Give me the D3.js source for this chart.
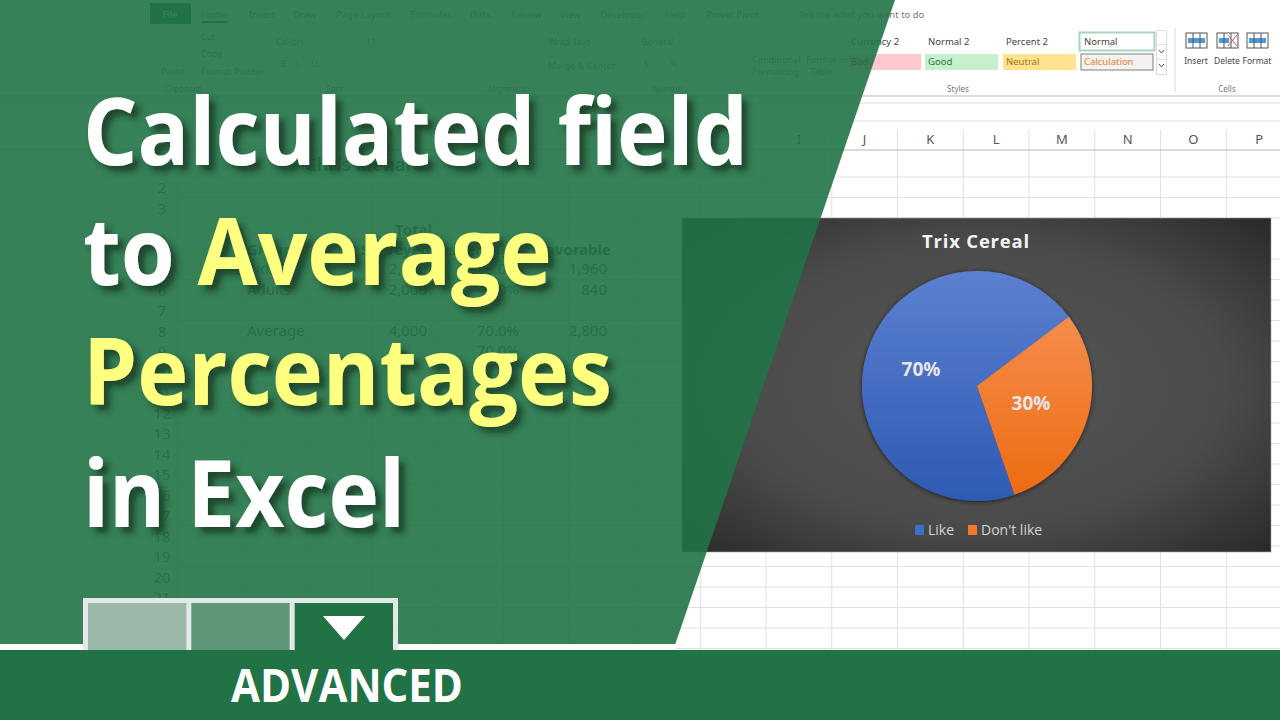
<!DOCTYPE html>
<html>
<head>
<meta charset="utf-8">
<script src="https://cdn.jsdelivr.net/npm/d3@7"></script>
<style>
  html, body { margin: 0; padding: 0; background: #fff; overflow: hidden; }
  svg { display: block; }
  text { font-family: "Open Sans", "Noto Sans", sans-serif; }
  .ui text, text.ui { font-family: "Noto Sans", "Liberation Sans", sans-serif; }
</style>
</head>
<body>
<script>
// chart data
const pieLabels = ['Like', "Don't like"];
const pieValues = [70, 30];
const pieTitle = 'Trix Cereal';

// spreadsheet behind the chart
const tableRows = ['Kids', 'Adults', '', 'Average', ''];
const tableSurveyed = ['2,000', '2,000', '', '4,000', ''];
const tablePercent = ['98.0%', '42.0%', '', '70.0%', '70.0%'];
const tableFavorable = ['1,960', '840', '', '2,800', ''];
const headerCells = ['Group', 'Surveyed', 'Percentage', 'Favorable'];
const leftCols = ['A', 'B', 'C', 'D', 'E', 'F', 'G', 'H'];
const rightCols = ['I', 'J', 'K', 'L', 'M', 'N', 'O', 'P'];
const rowNames = d3.range(2, 25);

// ribbon text
const ribbonTabs = ['Home', 'Insert', 'Draw', 'Page Layout', 'Formulas', 'Data', 'Review', 'View', 'Developer', 'Help', 'Power Pivot', 'Tell me what you want to do'];
const ribbonTools = ['Cut', 'Copy', 'Format Painter', 'Calibri', '11', 'Wrap Text', 'Merge & Center', 'General', 'Conditional', 'Formatting', 'Format as', 'Table', 'Paste', 'B', 'I', 'U', '$', '%'];
const ribbonGroups = ['Clipboard', 'Font', 'Alignment', 'Number', 'Styles', 'Cells'];
const styleTopRow = ['Currency 2', 'Normal 2', 'Percent 2', 'Normal'];
const styleBottomRow = ['Bad', 'Good', 'Neutral', 'Calculation'];
const cellTools = ['Insert', 'Delete', 'Format'];

// headline
const headline = [['Calculated field'], ['to ', 'Average'], ['Percentages'], ['in Excel']];
const levelLabel = 'ADVANCED';
const levelShades = ['#9ab9a8', '#5f9677', '#217346'];

// layout only
const tabX = [201, 249, 293, 336, 410, 470, 511, 560, 600, 665, 706, 799];
const toolPos = [[201,37],[201,54],[201,72],[276,42],[366,42],[548,42],[548,66],[641,42],[752,60],[752,72],[806,60],[810,72],[161,72],[280,64],[296,64],[311,64],[644,64],[670,64]];
const groupPos = [[183,89],[335,89],[507,89],[668,89],[958,89],[1227,89]];
const styleX = [851, 928, 1006, 1084];
const styleBoxX = [[850,921],[925,998],[1003,1076],[1081,1153]];
const styleBoxFill = ['#ffc7ce', '#c6efce', '#ffe38f', '#f2f2f2'];
const styleInk = ['#9c0006', '#1e7b34', '#a8700a', '#f07c1c'];
const cellX = [1196, 1227, 1257];
const rowSpan = rowNames.map(r => r === 4 ? 2 : 1);
const headlineY = [165, 285, 405, 527];
const headlineW = [665, 469, 529, 322];
const headlineInk = { 'to ': '#fff', 'Average': '#ffff80', 'Percentages': '#ffff80' };

const width = 1280, height = 720;
const svg = d3.select('body').append('svg').attr('width', width).attr('height', height);
const defs = svg.append('defs');

function linearGrad(id, top, bottom) {
  const g = defs.append('linearGradient').attr('id', id).attr('x1', 0).attr('y1', 0).attr('x2', 0).attr('y2', 1)
    .attr('gradientUnits', 'objectBoundingBox');
  g.append('stop').attr('offset', '0%').attr('stop-color', top);
  g.append('stop').attr('offset', '100%').attr('stop-color', bottom);
}
linearGrad('g-like', '#5c80d0', '#2e5ab4');
linearGrad('g-dislike', '#f68c4c', '#ec6c12');

const panelGrad = defs.append('radialGradient').attr('id', 'g-panel').attr('cx', '50%').attr('cy', '50%').attr('r', '70%');
panelGrad.append('stop').attr('offset', '0%').attr('stop-color', '#565656');
panelGrad.append('stop').attr('offset', '60%').attr('stop-color', '#4b4b4b');
panelGrad.append('stop').attr('offset', '100%').attr('stop-color', '#2a2a2a');

const headShadow = defs.append('filter').attr('id', 'f-head').attr('x', '-5%').attr('y', '-10%').attr('width', '115%').attr('height', '130%');
headShadow.append('feDropShadow').attr('dx', 6).attr('dy', 6).attr('stdDeviation', 3).attr('flood-color', '#123d26').attr('flood-opacity', 0.85);
const pieShadow = defs.append('filter').attr('id', 'f-pie').attr('x', '-10%').attr('y', '-10%').attr('width', '120%').attr('height', '120%');
pieShadow.append('feDropShadow').attr('dx', 0).attr('dy', 1).attr('stdDeviation', 2.5).attr('flood-color', '#000').attr('flood-opacity', 0.6);

// --- sheet grid ---
const sheet = svg.append('g').attr('class', 'ui');
const gridColor = '#e0e0e0';
const xRight = d3.scaleBand().domain(rightCols).range([766, 1292]);
const xLeft = d3.scaleBand().domain(leftCols).range([241, 766]);
const rowTop = d3.scaleLinear().domain([0, d3.sum(rowSpan)]).range([177, 177 + d3.sum(rowSpan) * 20.5]);
const rowEnds = Array.from(d3.cumsum(rowSpan));
const rowY = r => rowTop(rowEnds[rowNames.indexOf(r)] - rowSpan[rowNames.indexOf(r)]);
const rowMid = r => rowY(r) + rowSpan[rowNames.indexOf(r)] * 20.5 / 2;

sheet.selectAll('line.row').data(rowNames).join('line').attr('class', 'row')
  .attr('x1', 178).attr('x2', width)
  .attr('y1', d => rowY(d)).attr('y2', d => rowY(d))
  .attr('stroke', gridColor);
sheet.selectAll('line.col').data(leftCols.concat(rightCols)).join('line').attr('class', 'col')
  .attr('x1', d => leftCols.includes(d) ? xLeft(d) : xRight(d))
  .attr('x2', d => leftCols.includes(d) ? xLeft(d) : xRight(d))
  .attr('y1', 130).attr('y2', 650)
  .attr('stroke', gridColor);
sheet.append('line').attr('x1', 0).attr('x2', width).attr('y1', 150).attr('y2', 150).attr('stroke', '#b5b5b5');
sheet.append('line').attr('x1', 178).attr('x2', 178).attr('y1', 130).attr('y2', 650).attr('stroke', '#c8c8c8');
sheet.append('line').attr('x1', 0).attr('x2', width).attr('y1', 103).attr('y2', 103).attr('stroke', '#dcdcdc');
sheet.append('line').attr('x1', 0).attr('x2', width).attr('y1', 121).attr('y2', 121).attr('stroke', '#dcdcdc');

sheet.selectAll('text.colname').data(rightCols).join('text').attr('class', 'colname')
  .attr('x', d => xRight(d) + xRight.bandwidth() / 2).attr('y', 144)
  .attr('text-anchor', 'middle').attr('font-size', 13).attr('fill', '#555').text(d => d);
sheet.selectAll('text.rowname').data(rowNames.filter(r => r <= 21)).join('text').attr('class', 'rowname')
  .attr('x', 162).attr('y', d => rowMid(d) + 6)
  .attr('text-anchor', 'middle').attr('font-size', 15).attr('fill', '#555').text(d => d);

// ghost table, mostly hidden by the green wash
const ghost = sheet.append('g').attr('font-size', 15).attr('fill', '#4a4a4a');
ghost.append('text').attr('x', 305).attr('y', 171).attr('font-size', 18).attr('font-weight', 700).text('Chris Menard');
ghost.append('text').attr('x', 432).attr('y', 235).attr('text-anchor', 'end').attr('font-weight', 700).text('Total');
const headerX = [247, 430, 519, 611];
const valueX = [247, 427, 519, 607];
ghost.selectAll('text.head').data(headerCells).join('text').attr('class', 'head')
  .attr('x', (d, i) => headerX[i]).attr('y', 255)
  .attr('text-anchor', (d, i) => i ? 'end' : 'start').attr('font-weight', 700).text(d => d);
const tableStart = 5;
[tableRows, tableSurveyed, tablePercent, tableFavorable].forEach((col, c) => {
  ghost.selectAll(`text.c${c}`).data(col).join('text').attr('class', `c${c}`)
    .attr('x', valueX[c]).attr('y', (d, i) => rowMid(tableStart + i) + 5)
    .attr('text-anchor', c ? 'end' : 'start').text(d => d);
});

// --- ribbon ---
const ribbon = svg.append('g').attr('class', 'ui');
ribbon.append('rect').attr('x', 0).attr('y', 0).attr('width', width).attr('height', 96).attr('fill', '#fff');
ribbon.append('line').attr('x1', 0).attr('x2', width).attr('y1', 96).attr('y2', 96).attr('stroke', '#d0d0d0').attr('stroke-width', 1.5);
ribbon.append('rect').attr('x', 150).attr('y', 3).attr('width', 41).attr('height', 21).attr('fill', '#217346');
ribbon.append('text').attr('x', 170).attr('y', 18).attr('text-anchor', 'middle').attr('font-size', 9.5).attr('fill', '#fff').text('File');
ribbon.selectAll('text.tab').data(ribbonTabs).join('text').attr('class', 'tab')
  .attr('x', (d, i) => tabX[i]).attr('y', 18).attr('font-size', 9.5).attr('fill', '#777').text(d => d);
ribbon.append('rect').attr('x', 201).attr('y', 21).attr('width', 27).attr('height', 2).attr('fill', '#217346');
ribbon.selectAll('text.tool').data(ribbonTools).join('text').attr('class', 'tool')
  .attr('x', (d, i) => toolPos[i][0]).attr('y', (d, i) => toolPos[i][1] + 3).attr('font-size', 9).attr('fill', '#777').text(d => d);
ribbon.selectAll('text.group').data(ribbonGroups).join('text').attr('class', 'group')
  .attr('x', (d, i) => groupPos[i][0]).attr('y', (d, i) => groupPos[i][1] + 3)
  .attr('text-anchor', 'middle').attr('font-size', 8).attr('fill', '#777').text(d => d);

ribbon.selectAll('text.styleTop').data(styleTopRow).join('text').attr('class', 'styleTop')
  .attr('x', (d, i) => styleX[i]).attr('y', 45).attr('font-size', 9.5).attr('fill', '#444').text(d => d);
ribbon.append('rect').attr('x', 1079.5).attr('y', 32.5).attr('width', 75).attr('height', 18)
  .attr('fill', 'none').attr('stroke', '#a6d7ba').attr('stroke-width', 2);
ribbon.selectAll('rect.styleBox').data(styleBottomRow).join('rect').attr('class', 'styleBox')
  .attr('x', (d, i) => styleBoxX[i][0]).attr('y', 54)
  .attr('width', (d, i) => styleBoxX[i][1] - styleBoxX[i][0]).attr('height', 16)
  .attr('fill', (d, i) => styleBoxFill[i])
  .attr('stroke', (d, i) => i === 3 ? '#7f7f7f' : 'none');
ribbon.selectAll('text.styleBot').data(styleBottomRow).join('text').attr('class', 'styleBot')
  .attr('x', (d, i) => styleX[i]).attr('y', 65).attr('font-size', 9.5)
  .attr('fill', (d, i) => styleInk[i]).text(d => d);
ribbon.append('rect').attr('x', 1156.5).attr('y', 30.5).attr('width', 10).attr('height', 44).attr('fill', '#fff').attr('stroke', '#ddd');
ribbon.append('line').attr('x1', 1156.5).attr('x2', 1166.5).attr('y1', 44.5).attr('y2', 44.5).attr('stroke', '#ddd');
ribbon.append('line').attr('x1', 1156.5).attr('x2', 1166.5).attr('y1', 59.5).attr('y2', 59.5).attr('stroke', '#ddd');
ribbon.append('path').attr('d', 'M1159,50 L1161.5,53 L1164,50 M1159,64 L1161.5,67 L1164,64').attr('fill', 'none').attr('stroke', '#555');
ribbon.append('line').attr('x1', 1175).attr('x2', 1175).attr('y1', 28).attr('y2', 92).attr('stroke', '#d8d8d8');
ribbon.selectAll('text.cellTool').data(cellTools).join('text').attr('class', 'cellTool')
  .attr('x', (d, i) => cellX[i]).attr('y', 64).attr('text-anchor', 'middle').attr('font-size', 8.5).attr('fill', '#444').text(d => d);
ribbon.selectAll('g.cellIcon').data(cellTools).join('g').attr('class', 'cellIcon')
  .attr('transform', (d, i) => `translate(${cellX[i] - 10},33)`)
  .each(function(d, i) {
    const g = d3.select(this);
    g.append('rect').attr('width', 21).attr('height', 15).attr('fill', '#fff').attr('stroke', '#555');
    g.append('rect').attr('x', 2).attr('y', 5).attr('width', i === 1 ? 10 : 17).attr('height', 5).attr('fill', '#4d9ad8');
    d3.range(1, 3).forEach(k => g.append('line').attr('x1', k * 7).attr('x2', k * 7).attr('y1', 0).attr('y2', 15).attr('stroke', '#555'));
    if (i === 1) g.append('path').attr('d', 'M11,2 L20,13 M20,2 L11,13').attr('stroke', '#d9534f').attr('fill', 'none');
  });

// --- chart panel ---
const panel = svg.append('g');
const panelX = 682, panelY = 218, panelW = 589, panelH = 334;
panel.append('rect').attr('x', panelX).attr('y', panelY).attr('width', panelW).attr('height', panelH)
  .attr('fill', 'url(#g-panel)').attr('stroke', '#a0a0a0').attr('stroke-width', 0.6);
panel.append('text').attr('x', 976).attr('y', 248).attr('text-anchor', 'middle')
  .attr('font-size', 18.5).attr('font-weight', 700).attr('fill', '#f4f4f4').attr('letter-spacing', 0.8).text(pieTitle);

const pieR = 115;
const degToRad = Math.PI / 180;
const pieGen = d3.pie().sort(null).startAngle(161 * degToRad).endAngle(521 * degToRad);
const arcGen = d3.arc().innerRadius(0).outerRadius(pieR);
const sliceFill = d3.scaleOrdinal().domain(pieLabels).range(['url(#g-like)', 'url(#g-dislike)']);
const legendInk = d3.scaleOrdinal().domain(pieLabels).range(['#3f6ec6', '#ef7a2c']);
const pieG = panel.append('g').attr('transform', 'translate(977,386)');
const slices = pieGen(pieValues);

pieG.append('g').attr('filter', 'url(#f-pie)')
  .selectAll('path').data(slices).join('path')
  .attr('d', arcGen)
  .attr('fill', (d, i) => sliceFill(pieLabels[i]));
pieG.selectAll('text').data(slices).join('text')
  .attr('x', d => arcGen.centroid(d)[0] - 1).attr('y', d => arcGen.centroid(d)[1] + 7)
  .attr('text-anchor', 'middle').attr('font-size', 19).attr('font-weight', 700).attr('fill', '#e6e6e6')
  .text(d => d.data + '%');

const legendX = d3.scaleOrdinal().domain(pieLabels).range([915, 968]);
const legend = panel.selectAll('g.legend').data(pieLabels).join('g').attr('class', 'legend')
  .attr('transform', d => `translate(${legendX(d)},525)`);
legend.append('rect').attr('width', 9).attr('height', 10).attr('fill', d => legendInk(d));
legend.append('text').attr('x', 13).attr('y', 10).attr('font-size', 14).attr('fill', '#d4d4d4').text(d => d);

// --- green wash over the sheet ---
const washPts = [[0, 0], [895, 0], [675, 645], [0, 645]];
svg.append('polygon').attr('points', washPts.join(' ')).attr('fill', '#217346').attr('opacity', 0.9);

// --- headline ---
const head = svg.append('g').attr('filter', 'url(#f-head)')
  .attr('font-size', 94).attr('font-weight', 700);
headline.forEach((line, i) => {
  const t = head.append('text');
  line.forEach(part => t.append('tspan').attr('fill', headlineInk[part] || '#fff').text(part));
  // squeeze the line to the width it has in the picture
  const sx = headlineW[i] / t.node().getComputedTextLength();
  t.attr('transform', `translate(83,${headlineY[i]}) scale(${sx},1)`);
});

// --- level tabs + footer ---
const footer = svg.append('g');
footer.append('rect').attr('x', 0).attr('y', 644).attr('width', 676).attr('height', 6).attr('fill', '#fff');
const levelX = d3.scaleBand().domain(d3.range(levelShades.length)).range([88, 398]);
footer.append('rect').attr('x', 83).attr('y', 598).attr('width', 315).attr('height', 52).attr('fill', '#e4e8e6');
footer.selectAll('rect.level').data(levelShades).join('rect').attr('class', 'level')
  .attr('x', (d, i) => levelX(i)).attr('y', 603)
  .attr('width', levelX.bandwidth() - 5).attr('height', 47)
  .attr('fill', d => d);
footer.append('path').attr('d', 'M323,616 L365,616 L344,640 Z').attr('fill', '#fff');
footer.append('rect').attr('x', 0).attr('y', 650).attr('width', width).attr('height', 70).attr('fill', '#217346');
const adv = footer.append('text').attr('font-size', 47).attr('font-weight', 700).attr('fill', '#fff').text(levelLabel);
adv.attr('transform', `translate(231,702) scale(${232 / adv.node().getComputedTextLength()},1)`);
</script>
</body>
</html>
